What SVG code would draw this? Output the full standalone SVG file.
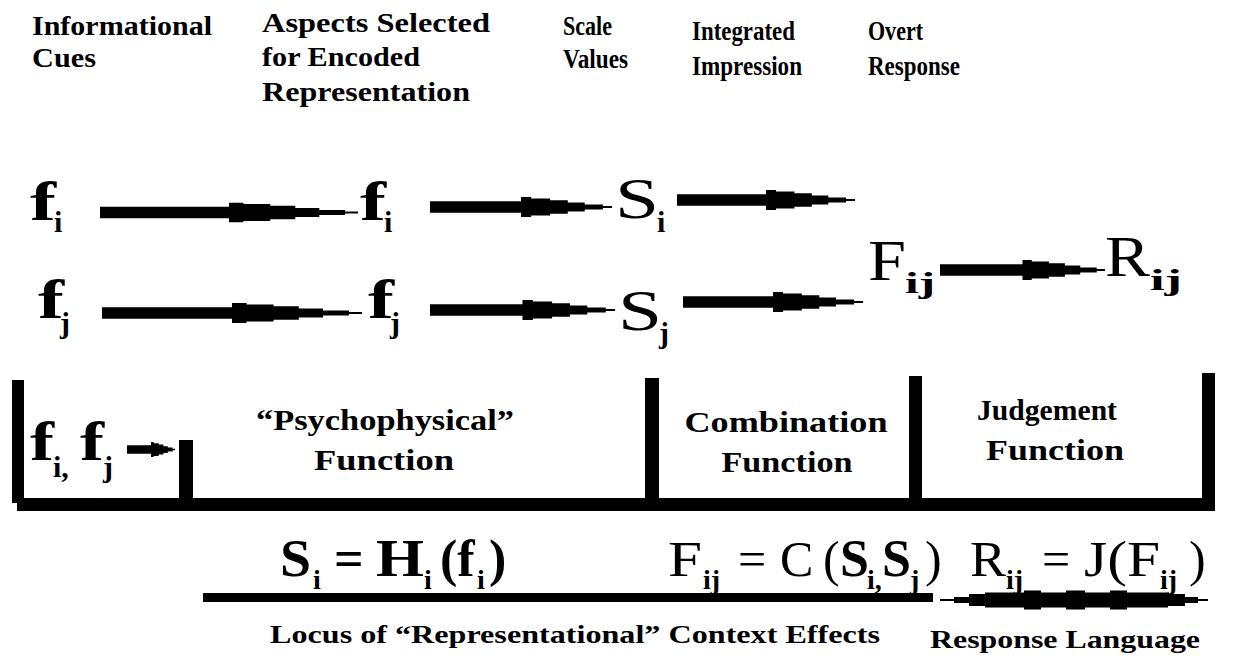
<svg xmlns="http://www.w3.org/2000/svg" width="1243" height="656" viewBox="0 0 1243 656">
<style>
.hd{font-family:"Liberation Serif","Times New Roman",serif;font-weight:bold;font-size:27px;fill:#000}
.bf{font-family:"Liberation Serif","Times New Roman",serif;font-weight:bold;font-size:54px;fill:#000}
.rg{font-family:"Liberation Serif","Times New Roman",serif;font-weight:normal;font-size:56px;fill:#000}
.sb{font-family:"Liberation Serif","Times New Roman",serif;font-weight:bold;font-size:30px;fill:#000}
.fn{font-family:"Liberation Serif","Times New Roman",serif;font-weight:bold;font-size:30px;fill:#000}
.eq{font-family:"Liberation Serif","Times New Roman",serif;font-weight:bold;font-size:52px;fill:#000}
.er{font-family:"Liberation Serif","Times New Roman",serif;font-weight:normal;font-size:50px;fill:#000}
.es{font-family:"Liberation Serif","Times New Roman",serif;font-weight:bold;font-size:28px;fill:#000}
.ft{font-family:"Liberation Serif","Times New Roman",serif;font-weight:bold;font-size:25px;fill:#000}
.bar{fill:#000}
</style>
<defs>
<symbol id="arr" viewBox="0 0 100 20" preserveAspectRatio="none">
<path d="M0,4.2 H50 V0 H55.6 V1.5 H66 V3.2 H75.7 V5.5 H85 V7.4 H95 V9 H100 V11 H95 V12.6 H85 V14.5 H75.7 V16.8 H66 V18.5 H55.6 V20 H50 V15.8 H0 Z" fill="#000"/>
</symbol>
</defs>

<g id="headers">
<text class="hd" x="32" y="35" textLength="180" lengthAdjust="spacingAndGlyphs">Informational</text>
<text class="hd" x="32" y="67" textLength="64" lengthAdjust="spacingAndGlyphs">Cues</text>
<text class="hd" x="262" y="32" textLength="228" lengthAdjust="spacingAndGlyphs">Aspects Selected</text>
<text class="hd" x="262" y="66" textLength="158" lengthAdjust="spacingAndGlyphs">for Encoded</text>
<text class="hd" x="262" y="101" textLength="208" lengthAdjust="spacingAndGlyphs">Representation</text>
<text class="hd" x="563" y="35" textLength="49" lengthAdjust="spacingAndGlyphs">Scale</text>
<text class="hd" x="563" y="68" textLength="65" lengthAdjust="spacingAndGlyphs">Values</text>
<text class="hd" x="692" y="40" textLength="103" lengthAdjust="spacingAndGlyphs">Integrated</text>
<text class="hd" x="692" y="75" textLength="110" lengthAdjust="spacingAndGlyphs">Impression</text>
<text class="hd" x="868" y="40" textLength="55" lengthAdjust="spacingAndGlyphs">Overt</text>
<text class="hd" x="868" y="75" textLength="92" lengthAdjust="spacingAndGlyphs">Response</text>
</g>

<g id="node-fi1"><text class="bf" x="30" y="220" textLength="26" lengthAdjust="spacingAndGlyphs">f</text><text class="sb" x="54" y="232">i</text></g>
<g id="node-fj1"><text class="bf" x="38" y="318" textLength="26" lengthAdjust="spacingAndGlyphs">f</text><text class="sb" x="60" y="333">j</text></g>
<g id="node-fi2"><text class="bf" x="360" y="220" textLength="26" lengthAdjust="spacingAndGlyphs">f</text><text class="sb" x="384" y="232">i</text></g>
<g id="node-fj2"><text class="bf" x="368" y="318" textLength="26" lengthAdjust="spacingAndGlyphs">f</text><text class="sb" x="390" y="333">j</text></g>
<g id="node-si"><text class="rg" x="615" y="218" textLength="44" lengthAdjust="spacingAndGlyphs">S</text><text class="sb" x="657" y="232">i</text></g>
<g id="node-sj"><text class="rg" x="618" y="330" textLength="44" lengthAdjust="spacingAndGlyphs">S</text><text class="sb" x="659" y="343">j</text></g>
<g id="node-fij"><text class="rg" x="868" y="280" textLength="38" lengthAdjust="spacingAndGlyphs">F</text><text class="sb" x="905" y="293" textLength="30" lengthAdjust="spacingAndGlyphs">ij</text></g>
<g id="node-rij"><text class="rg" x="1105" y="276" textLength="45" lengthAdjust="spacingAndGlyphs">R</text><text class="sb" x="1150" y="290" textLength="32" lengthAdjust="spacingAndGlyphs">ij</text></g>

<g id="connectors">
<use href="#arr" x="100" y="202.5" width="258" height="20"/>
<use href="#arr" x="430" y="197" width="182" height="20"/>
<use href="#arr" x="677" y="190" width="178" height="20"/>
<use href="#arr" x="940" y="260" width="165" height="20"/>
<use href="#arr" x="102" y="303" width="260" height="20"/>
<use href="#arr" x="430" y="300" width="185" height="20"/>
<use href="#arr" x="683" y="292" width="180" height="20"/>
</g>

<g id="frame">
<rect class="bar" x="12" y="380" width="12" height="123"/>
<rect class="bar" x="17" y="498" width="1198" height="13"/>
<rect class="bar" x="179" y="440" width="14" height="58"/>
<rect class="bar" x="645" y="378" width="14" height="122"/>
<rect class="bar" x="909" y="376" width="13" height="124"/>
<rect class="bar" x="1202" y="373" width="13" height="125"/>
</g>

<g id="node-fifj">
<text class="bf" x="30" y="460" textLength="24" lengthAdjust="spacingAndGlyphs">f</text><text class="sb" x="53" y="477">i,</text>
<text class="bf" x="80" y="460" textLength="24" lengthAdjust="spacingAndGlyphs">f</text><text class="sb" x="103" y="477">j</text>
<use href="#arr" x="127" y="442" width="48" height="15"/>
</g>

<g id="node-psy">
<text class="fn" x="385" y="430" text-anchor="middle" textLength="258" lengthAdjust="spacingAndGlyphs">“Psychophysical”</text>
<text class="fn" x="384" y="470" text-anchor="middle" textLength="140" lengthAdjust="spacingAndGlyphs">Function</text>
</g>
<g id="node-comb">
<text class="fn" x="786" y="432" text-anchor="middle" textLength="203" lengthAdjust="spacingAndGlyphs">Combination</text>
<text class="fn" x="787" y="472" text-anchor="middle" textLength="131" lengthAdjust="spacingAndGlyphs">Function</text>
</g>
<g id="node-judg">
<text class="fn" x="1047" y="420" text-anchor="middle" textLength="140" lengthAdjust="spacingAndGlyphs">Judgement</text>
<text class="fn" x="1055" y="460" text-anchor="middle" textLength="138" lengthAdjust="spacingAndGlyphs">Function</text>
</g>

<g id="eq-s">
<text class="eq" x="280" y="576" textLength="31" lengthAdjust="spacingAndGlyphs">S</text>
<text class="es" x="313" y="589">i</text>
<text class="eq" x="334" y="576">=</text>
<text class="eq" x="376" y="576" textLength="48" lengthAdjust="spacingAndGlyphs">H</text>
<text class="es" x="424" y="589">i</text>
<text class="eq" x="440" y="576">(f</text>
<text class="es" x="477" y="589">i</text>
<text class="eq" x="489" y="576">)</text>
</g>
<g id="eq-f">
<text class="er" x="668" y="576" textLength="34" lengthAdjust="spacingAndGlyphs">F</text>
<text class="es" x="703" y="589">ij</text>
<text class="er" x="738" y="576">=</text>
<text class="er" x="780" y="576">C</text>
<text class="er" x="823" y="576">(</text>
<text class="eq" x="840" y="576">S</text>
<text class="es" x="867" y="589">i,</text>
<text class="eq" x="882" y="576">S</text>
<text class="es" x="910" y="589">j</text>
<text class="er" x="925" y="576">)</text>
</g>
<g id="eq-r">
<text class="er" x="970" y="576" textLength="36" lengthAdjust="spacingAndGlyphs">R</text>
<text class="es" x="1006" y="589">ij</text>
<text class="er" x="1042" y="576">=</text>
<text class="er" x="1084" y="576" textLength="76" lengthAdjust="spacingAndGlyphs">J(F</text>
<text class="es" x="1160" y="589">ij</text>
<text class="er" x="1189" y="576">)</text>
</g>

<g id="lines">
<rect class="bar" x="203" y="593" width="730" height="9"/>
<path class="bar" d="M940,599 H954 V597 H969 V594 H985 V592.5 H1024 V590.5 H1041 V592.5 H1066 V590.5 H1085 V592.5 H1110 V590.5 H1127 V592.5 H1168 V594 H1185 V597 H1198 V599 H1208 V601 H1198 V603 H1185 V606 H1168 V607.5 H1127 V609.5 H1110 V607.5 H1085 V609.5 H1066 V607.5 H1041 V609.5 H1024 V607.5 H985 V606 H969 V603 H954 V601 H940 Z"/>
</g>

<g id="footer">
<text class="ft" x="270" y="643" textLength="610" lengthAdjust="spacingAndGlyphs">Locus of “Representational” Context Effects</text>
<text class="ft" x="930" y="648" textLength="270" lengthAdjust="spacingAndGlyphs">Response Language</text>
</g>
</svg>
